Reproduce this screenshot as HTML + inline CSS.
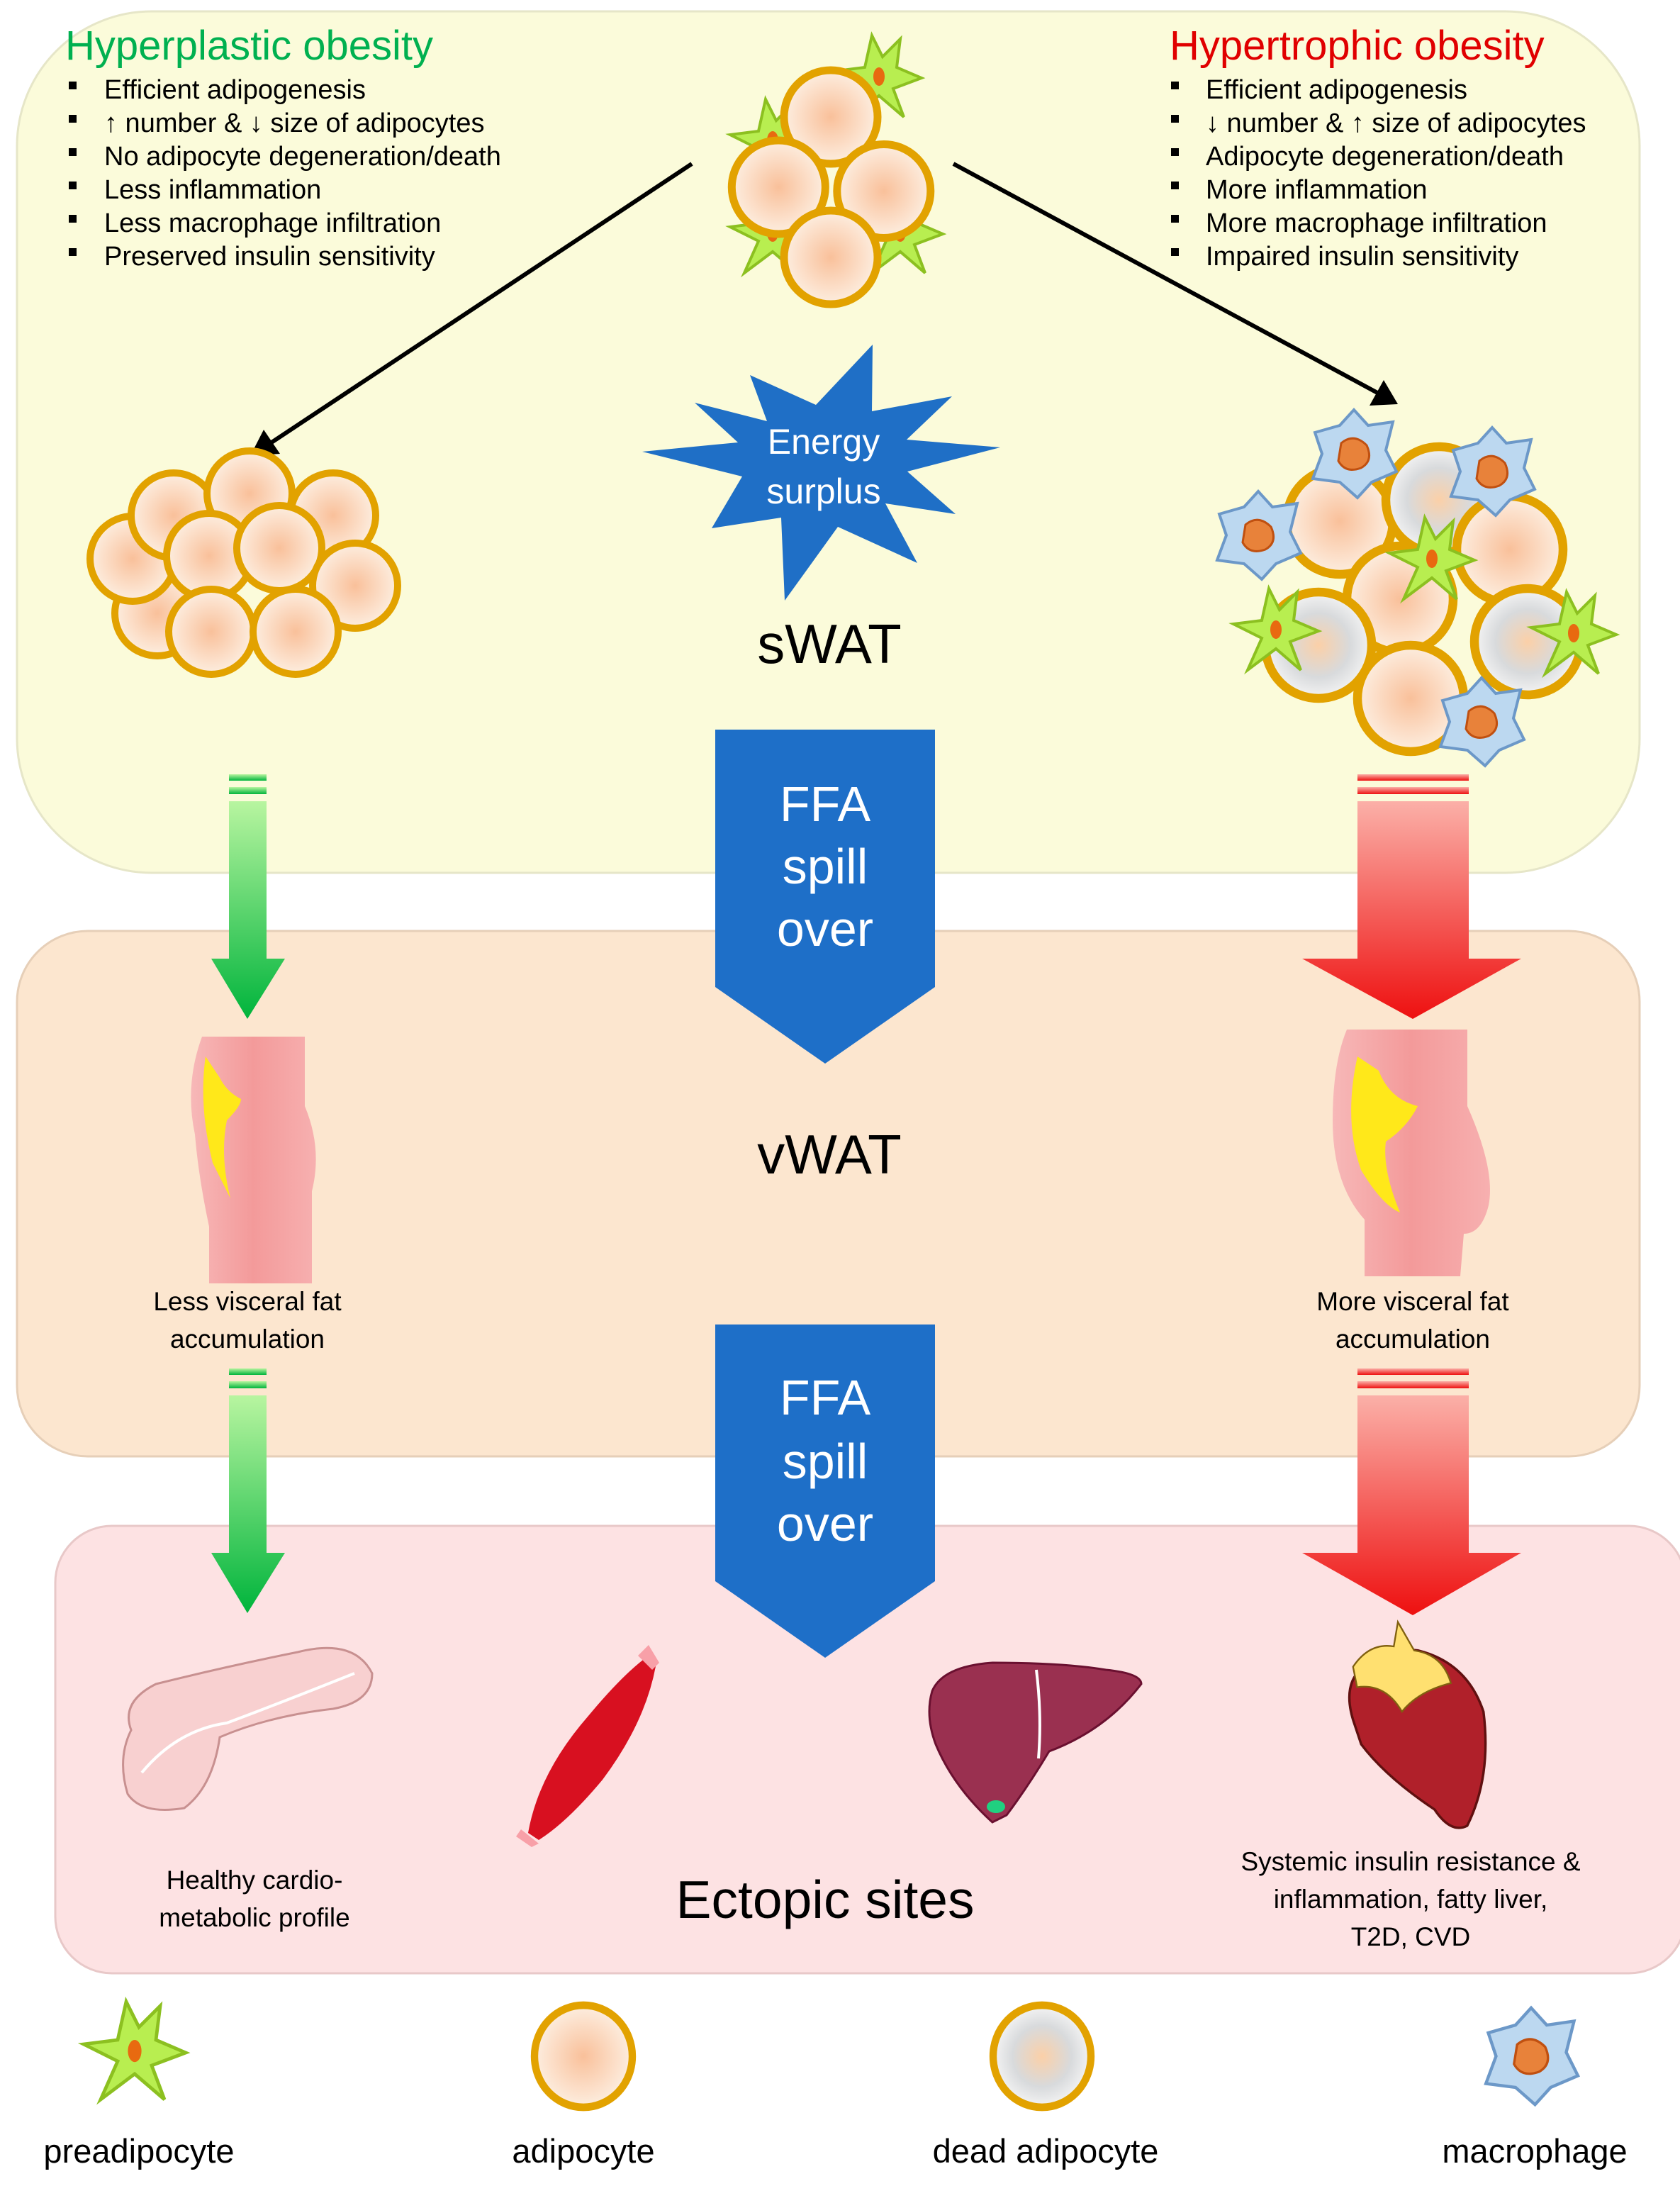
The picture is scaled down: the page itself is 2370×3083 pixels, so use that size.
<!DOCTYPE html>
<html><head><meta charset="utf-8"><style>
html,body{margin:0;padding:0;background:#fff}
svg{display:block}
text{font-family:"Liberation Sans",sans-serif}
</style></head><body>
<svg width="2370" height="3083" viewBox="0 0 2370 3083" xmlns="http://www.w3.org/2000/svg">
<defs>
<radialGradient id="fat" cx="50%" cy="50%" r="50%"><stop offset="0" stop-color="#f9c09a"/><stop offset="1" stop-color="#fdeee0"/></radialGradient>
<radialGradient id="dead" cx="50%" cy="50%" r="50%"><stop offset="0" stop-color="#fbd0a8"/><stop offset="0.6" stop-color="#d8dadc"/><stop offset="1" stop-color="#f4f4f4"/></radialGradient>
<linearGradient id="gArr" x1="0" y1="0" x2="0" y2="1"><stop offset="0" stop-color="#b8f5a0"/><stop offset="1" stop-color="#00b43c"/></linearGradient>
<linearGradient id="rArr" x1="0" y1="0" x2="0" y2="1"><stop offset="0" stop-color="#fbb0a8"/><stop offset="1" stop-color="#ee1010"/></linearGradient>
<linearGradient id="torso" x1="0" y1="0" x2="1" y2="0"><stop offset="0" stop-color="#f7b8b8"/><stop offset="0.5" stop-color="#f39a9a"/><stop offset="1" stop-color="#f7b0b0"/></linearGradient>
<g id="cell"><circle r="60" fill="url(#fat)" stroke="#e2a200" stroke-width="10"/></g>
<g id="dcell"><circle r="60" fill="url(#dead)" stroke="#e2a200" stroke-width="10"/></g>
<g id="pre"><path d="M-10,-60 L5,-30 L30,-55 L25,-15 L60,0 L20,15 L35,55 L0,25 L-40,55 L-20,10 L-60,-10 L-20,-15 Z" fill="#b8ee50" stroke="#8cc020" stroke-width="4"/><ellipse cx="0" cy="-2" rx="8" ry="13" fill="#e86a10"/></g>
<g id="mac"><path d="M-55,-30 L-20,-40 L0,-62 L20,-40 L55,-45 L45,-5 L60,25 L25,40 L5,62 L-20,40 L-58,35 L-45,0 Z" fill="#bcd8f0" stroke="#6c98c8" stroke-width="4"/><path d="M-18,-15 Q0,-30 18,-12 Q28,10 10,20 Q-12,28 -22,10 Z" fill="#e8823a" stroke="#c05010" stroke-width="3"/></g>
</defs>

<rect x="24" y="16" width="2289" height="1215" rx="190" fill="#fbfbda" stroke="#e6e6c8" stroke-width="3"/>
<rect x="24" y="1313" width="2289" height="741" rx="100" fill="#fce6cf" stroke="#e6cfb8" stroke-width="3"/>
<rect x="78" y="2152" width="2300" height="631" rx="80" fill="#fde2e3" stroke="#e8c8c8" stroke-width="3"/>

<text x="92" y="84" font-size="58" fill="#00b050">Hyperplastic obesity</text>
<text x="1650" y="84" font-size="58" fill="#e00000">Hypertrophic obesity</text>
<g font-size="38" fill="#000">
<g>
<rect x="97" y="115" width="11" height="11"/><text x="147" y="139">Efficient adipogenesis</text>
<rect x="97" y="162" width="11" height="11"/><text x="147" y="186">↑ number  &amp; ↓ size of adipocytes</text>
<rect x="97" y="209" width="11" height="11"/><text x="147" y="233">No adipocyte degeneration/death</text>
<rect x="97" y="256" width="11" height="11"/><text x="147" y="280">Less inflammation</text>
<rect x="97" y="303" width="11" height="11"/><text x="147" y="327">Less macrophage  infiltration</text>
<rect x="97" y="350" width="11" height="11"/><text x="147" y="374">Preserved insulin sensitivity</text>
</g>
<g>
<rect x="1652" y="115" width="11" height="11"/><text x="1701" y="139">Efficient adipogenesis</text>
<rect x="1652" y="162" width="11" height="11"/><text x="1701" y="186">↓ number  &amp; ↑ size of adipocytes</text>
<rect x="1652" y="209" width="11" height="11"/><text x="1701" y="233">Adipocyte degeneration/death</text>
<rect x="1652" y="256" width="11" height="11"/><text x="1701" y="280">More inflammation</text>
<rect x="1652" y="303" width="11" height="11"/><text x="1701" y="327">More macrophage  infiltration</text>
<rect x="1652" y="350" width="11" height="11"/><text x="1701" y="374">Impaired insulin sensitivity</text>
</g>
</g>

<use href="#pre" x="1240" y="110"/>
<use href="#pre" x="1090" y="330"/>
<use href="#pre" x="1270" y="330"/>
<use href="#pre" x="1090" y="200"/>
<g transform="translate(1172,0) scale(1.1) translate(-1172,0)">
<use href="#cell" x="1172" y="150"/>
<use href="#cell" x="1105" y="240"/>
<use href="#cell" x="1240" y="245"/>
<use href="#cell" x="1172" y="330"/>
</g>

<line x1="976" y1="231" x2="380" y2="626" stroke="#000" stroke-width="6"/>
<polygon points="353,643 372,606 395,640" fill="#000"/>
<line x1="1345" y1="231" x2="1945" y2="555" stroke="#000" stroke-width="6"/>
<polygon points="1972,570 1932,572 1952,536" fill="#000"/>

<use href="#cell" x="222" y="865"/>
<use href="#cell" x="187" y="788"/>
<use href="#cell" x="245" y="727"/>
<use href="#cell" x="470" y="727"/>
<use href="#cell" x="352" y="696"/>
<use href="#cell" x="295" y="784"/>
<use href="#cell" x="394" y="773"/>
<use href="#cell" x="501" y="826"/>
<use href="#cell" x="298" y="891"/>
<use href="#cell" x="417" y="891"/>

<g>
<use href="#cell" x="1890" y="735" transform="translate(1890,735) scale(1.25) translate(-1890,-735)"/>
<use href="#dcell" x="2030" y="705" transform="translate(2030,705) scale(1.25) translate(-2030,-705)"/>
<use href="#cell" x="2130" y="775" transform="translate(2130,775) scale(1.25) translate(-2130,-775)"/>
<use href="#cell" x="1975" y="845" transform="translate(1975,845) scale(1.25) translate(-1975,-845)"/>
<use href="#dcell" x="1860" y="910" transform="translate(1860,910) scale(1.25) translate(-1860,-910)"/>
<use href="#dcell" x="2155" y="905" transform="translate(2155,905) scale(1.25) translate(-2155,-905)"/>
<use href="#cell" x="1990" y="985" transform="translate(1990,985) scale(1.25) translate(-1990,-985)"/>
<use href="#pre" x="1800" y="890"/>
<use href="#pre" x="2020" y="790"/>
<use href="#pre" x="2220" y="895"/>
<use href="#mac" x="1775" y="755"/>
<use href="#mac" x="1910" y="640"/>
<use href="#mac" x="2105" y="665"/>
<use href="#mac" x="2090" y="1018"/>
</g>

<polygon fill="#1f6fc6" points="1058,529 1151,571 1231,486 1230,580 1343,559 1279,620 1411,631 1280,665 1348,725 1249,710 1294,794 1182,743 1107,847 1102,730 1004,745 1047,672 906,637 1041,624 980,568 1082,594"/>
<text x="1162" y="640" font-size="50" fill="#fff" text-anchor="middle">Energy</text>
<text x="1162" y="710" font-size="50" fill="#fff" text-anchor="middle">surplus</text>
<text x="1170" y="935" font-size="78" text-anchor="middle">sWAT</text>

<polygon points="1009,1029 1319,1029 1319,1392 1164,1500 1009,1392" fill="#1e6fc8"/>
<g font-size="70" fill="#fff" text-anchor="middle"><text x="1164" y="1158">FFA</text><text x="1164" y="1246">spill</text><text x="1164" y="1334">over</text></g>
<polygon points="1009,1868 1319,1868 1319,2230 1164,2338 1009,2230" fill="#1e6fc8"/>
<g font-size="70" fill="#fff" text-anchor="middle"><text x="1164" y="1995">FFA</text><text x="1164" y="2085">spill</text><text x="1164" y="2173">over</text></g>

<text x="1170" y="1655" font-size="78" text-anchor="middle">vWAT</text>
<text x="1164" y="2705" font-size="75" text-anchor="middle">Ectopic sites</text>

<g fill="url(#gArr)">
<rect x="323" y="1092" width="53" height="9"/><rect x="323" y="1110" width="53" height="10"/>
<polygon points="323,1130 376,1130 376,1352 402,1352 349,1437 298,1352 323,1352"/>
<rect x="323" y="1930" width="53" height="9"/><rect x="323" y="1948" width="53" height="10"/>
<polygon points="323,1968 376,1968 376,2190 402,2190 349,2275 298,2190 323,2190"/>
</g>
<g fill="url(#rArr)">
<rect x="1915" y="1092" width="157" height="9"/><rect x="1915" y="1110" width="157" height="10"/>
<polygon points="1915,1130 2072,1130 2072,1352 2146,1352 1993,1437 1837,1352 1915,1352"/>
<rect x="1915" y="1930" width="157" height="9"/><rect x="1915" y="1948" width="157" height="10"/>
<polygon points="1915,1968 2072,1968 2072,2190 2146,2190 1993,2278 1837,2190 1915,2190"/>
</g>

<path d="M285,1462 L430,1462 L430,1560 Q455,1620 440,1680 L440,1810 L295,1810 L295,1730 Q280,1660 275,1600 Q260,1530 285,1462 Z" fill="url(#torso)"/>
<path d="M290,1490 Q280,1560 300,1640 Q320,1680 325,1690 Q310,1630 320,1580 Q340,1560 340,1550 Q320,1540 310,1520 Z" fill="#ffe81a"/>
<path d="M1900,1452 L2070,1452 L2070,1560 Q2110,1650 2100,1700 Q2090,1740 2065,1740 L2060,1800 L1925,1800 L1925,1720 Q1880,1670 1880,1580 Q1880,1500 1900,1452 Z" fill="url(#torso)"/>
<path d="M1915,1490 Q1895,1580 1920,1650 Q1950,1700 1975,1710 Q1950,1650 1955,1610 Q1985,1590 2000,1560 Q1960,1550 1945,1510 Z" fill="#ffe81a"/>

<g font-size="37" text-anchor="middle">
<text x="349" y="1848">Less visceral fat</text><text x="349" y="1901">accumulation</text>
<text x="1993" y="1848">More visceral fat</text><text x="1993" y="1901">accumulation</text>
<text x="359" y="2664">Healthy cardio-</text><text x="359" y="2717">metabolic profile</text>
<text x="1990" y="2638">Systemic insulin resistance &amp;</text><text x="1990" y="2691">inflammation, fatty liver,</text><text x="1990" y="2744">T2D, CVD</text>
</g>

<path d="M185,2440 Q170,2400 220,2375 Q320,2350 420,2330 Q500,2310 525,2360 Q525,2400 470,2410 Q380,2420 310,2450 Q300,2520 260,2550 Q200,2560 180,2530 Q165,2480 185,2440 Z" fill="#f8d0d0" stroke="#c89090" stroke-width="3"/>
<path d="M200,2500 Q250,2440 320,2430 Q400,2400 500,2360" fill="none" stroke="#fff" stroke-width="4"/>
<path d="M745,2585 Q760,2500 830,2420 Q880,2360 915,2335 L925,2350 Q910,2430 850,2510 Q800,2570 760,2595 Z" fill="#d81020"/>
<path d="M735,2580 L760,2600 L750,2605 L728,2590 Z" fill="#f8a0a8"/>
<path d="M900,2335 L915,2320 L930,2345 L920,2355 Z" fill="#f8a0a8"/>
<path d="M1315,2385 Q1330,2350 1400,2345 Q1500,2345 1560,2355 Q1610,2360 1610,2375 Q1560,2440 1480,2470 Q1450,2520 1420,2560 L1400,2570 Q1345,2520 1320,2460 Q1305,2420 1315,2385 Z" fill="#9a3050" stroke="#6a1030" stroke-width="3"/>
<path d="M1462,2355 Q1470,2420 1465,2480" stroke="#fff" stroke-width="4" fill="none"/>
<ellipse cx="1405" cy="2548" rx="13" ry="9" fill="#20d080"/>
<g transform="translate(1995,2460) scale(1.15) translate(-1995,-2460)">
<path d="M1920,2430 Q1905,2380 1940,2360 Q1960,2340 2000,2345 Q2060,2360 2080,2420 Q2090,2500 2060,2560 Q2040,2570 2020,2540 Q1960,2500 1930,2460 Z" fill="#b0202a" stroke="#601010" stroke-width="3"/>
<path d="M1920,2365 Q1940,2335 1970,2340 L1975,2310 L1995,2345 Q2030,2350 2040,2385 Q2000,2395 1980,2420 Q1960,2385 1925,2390 Z" fill="#ffe070" stroke="#806010" stroke-width="2"/>
</g>

<use href="#pre" x="190" y="2895" transform="translate(190,2895) scale(1.2) translate(-190,-2895)"/>
<g transform="translate(823,2900) scale(1.15,1.2)"><circle r="60" fill="url(#fat)" stroke="#e2a200" stroke-width="9"/></g>
<g transform="translate(1470,2900) scale(1.15,1.2)"><circle r="60" fill="url(#dead)" stroke="#e2a200" stroke-width="9"/></g>
<use href="#mac" x="2160" y="2900" transform="translate(2160,2900) scale(1.1) translate(-2160,-2900)"/>
<g font-size="47" text-anchor="middle">
<text x="196" y="3050">preadipocyte</text>
<text x="823" y="3050">adipocyte</text>
<text x="1475" y="3050">dead adipocyte</text>
<text x="2165" y="3050">macrophage</text>
</g>
</svg>
</body></html>
